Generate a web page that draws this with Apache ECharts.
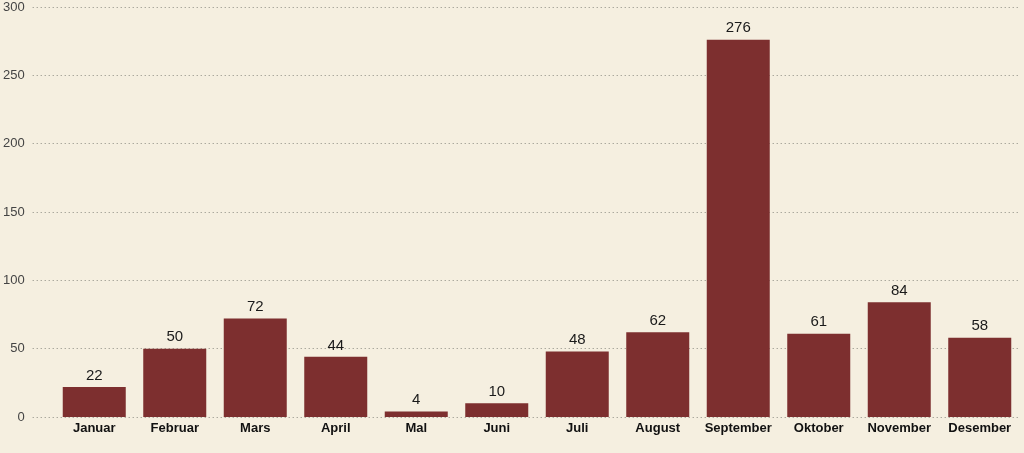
<!DOCTYPE html>
<html>
<head>
<meta charset="utf-8">
<script src="https://cdn.jsdelivr.net/npm/echarts@6/dist/echarts.min.js"></script>
<style>
  html, body { margin: 0; padding: 0; background: #f5efe0; }
  #chart { width: 1024px; height: 453px; }
</style>
</head>
<body>
<div id="chart"></div>
<script>
  const months = ['Januar', 'Februar', 'Mars', 'April', 'Mal', 'Juni', 'Juli', 'August', 'September', 'Oktober', 'November', 'Desember'];
  const values = [22, 50, 72, 44, 4, 10, 48, 62, 276, 61, 84, 58];
  const yMin = 0;
  const yMax = 300;
  const yStep = 50;

  const chart = echarts.init(document.getElementById('chart'));
  chart.setOption({
    backgroundColor: '#f5efe0',
    animation: false,
    grid: [
      // grid for the y axis and dotted lines (reaches further left)
      { left: 30, right: 4, top: 7, bottom: 36 },
      // grid for the bars
      { left: 54, right: 4, top: 7, bottom: 36 }
    ],
    xAxis: [
      { type: 'value', gridIndex: 0, show: false, min: 0, max: 1 },
      {
        type: 'category',
        gridIndex: 1,
        data: months,
        axisLine: { show: false },
        axisTick: { show: false },
        axisLabel: {
          interval: 0,
          color: '#111',
          fontWeight: 'bold',
          fontSize: 13,
          fontFamily: 'Liberation Sans, Arial, sans-serif',
          margin: 5
        }
      }
    ],
    yAxis: [
      {
        type: 'value',
        gridIndex: 0,
        min: yMin,
        max: yMax,
        interval: yStep,
        axisLine: { show: false },
        axisTick: { show: false },
        axisLabel: {
          color: '#444',
          fontSize: 13,
          fontFamily: 'Liberation Sans, Arial, sans-serif',
          margin: 8
        },
        splitLine: {
          lineStyle: { color: '#8a8a80', type: [1, 3], width: 1 }
        }
      },
      {
        type: 'value',
        gridIndex: 1,
        min: yMin,
        max: yMax,
        interval: yStep,
        show: false,
        splitLine: { show: false }
      }
    ],
    series: [{
      type: 'bar',
      xAxisIndex: 1,
      yAxisIndex: 1,
      data: values,
      barWidth: 63,
      itemStyle: { color: '#7d2f2f' },
      label: {
        show: true,
        position: 'top',
        color: '#1a1a1a',
        fontSize: 15,
        fontFamily: 'Liberation Sans, Arial, sans-serif',
        distance: 4
      }
    }]
  });
</script>
</body>
</html>
